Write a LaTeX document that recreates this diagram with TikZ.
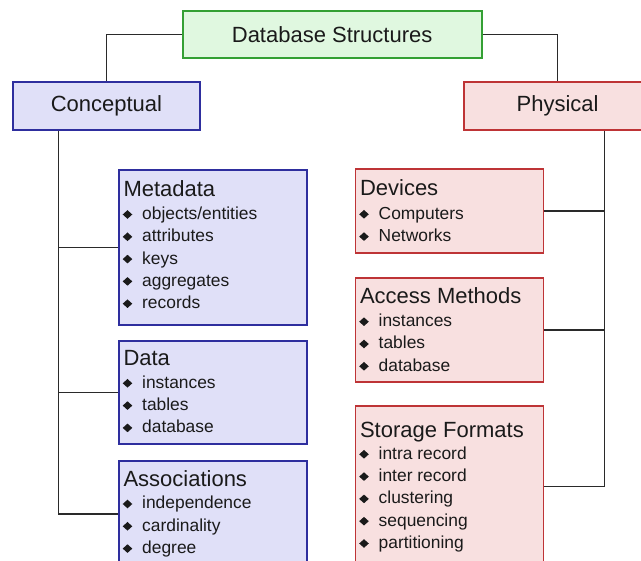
\documentclass[tikz,border=0pt]{standalone}
\usepackage{fontspec}
\setmainfont{Liberation Sans}
\definecolor{gfill}{HTML}{E0F8E0}
\definecolor{gdraw}{HTML}{34A034}
\definecolor{bfill}{HTML}{E0E0F8}
\definecolor{bdraw}{HTML}{2E2E9E}
\definecolor{rfill}{HTML}{F8E0E0}
\definecolor{rdraw}{HTML}{BE3436}
\definecolor{txt}{HTML}{1A1A1A}
\definecolor{linec}{HTML}{2A2A2A}
\tikzset{
  boxbase/.style={rectangle, line width=1.9pt, inner sep=0pt, anchor=north west},
  greenbox/.style={boxbase, draw=gdraw, fill=gfill},
  bluebox/.style={boxbase, draw=bdraw, fill=bfill},
  redbox/.style={boxbase, draw=rdraw, fill=rfill},
  titletext/.style={text=txt, inner sep=0pt, font=\fontsize{22}{26}\selectfont},
  itemtext/.style={text=txt, inner sep=0pt, anchor=base west, font=\fontsize{17.4}{20}\selectfont},
  conn/.style={draw=linec, line width=1.6pt},
}
% #1 prefix, #2 box left x, #3 first item baseline, #4 items
\newcommand\mylist[4]{%
  \foreach \t [count=\i] in {#4} {
    \node[itemtext] (#1-\i) at ({#2+24},{#3+22.3*(\i-1)}) {\t};
    \fill[txt] ({#2+9.5-4.8},{#3+22.3*(\i-1)-5}) -- ++(4.8,-4.3) -- ++(4.8,4.3) -- ++(-4.8,4.3) -- cycle;
  }%
}
\begin{document}
\begin{tikzpicture}[x=1pt,y=-1pt]
\useasboundingbox (0,0) rectangle (641,561);
\clip (0,0) rectangle (641,561);
\fill[white] (0,0) rectangle (641,561);

% top level
\node[greenbox, minimum width=299pt, minimum height=47.3pt] (top) at (181.7,10) {};
\node[titletext] (toplbl) at (top.center) {Database Structures};

\node[bluebox, minimum width=187.6pt, minimum height=47.7pt] (concept) at (11.7,81) {};
\node[titletext] (conceptlbl) at (concept.center) {Conceptual};

\node[redbox, minimum width=188pt, minimum height=47.7pt] (phys) at (462.7,81) {};
\node[titletext] (physlbl) at (phys.center) {Physical};

% conceptual children
\node[bluebox, minimum width=188pt, minimum height=155pt] (meta) at (118,169) {};
\node[titletext, anchor=base west] (metat) at (123.3,196.7) {Metadata};
\mylist{meta}{118}{219.5}{{objects/entities},attributes,keys,aggregates,records}

\node[bluebox, minimum width=188pt, minimum height=103.3pt] (data) at (118,340) {};
\node[titletext, anchor=base west] (datat) at (123.3,365.7) {Data};
\mylist{data}{118}{388.3}{instances,tables,database}

\node[bluebox, minimum width=188pt, minimum height=106pt] (assoc) at (118,460) {};
\node[titletext, anchor=base west] (assoct) at (123.3,486.7) {Associations};
\mylist{assoc}{118}{509}{independence,cardinality,degree}

% physical children
\node[redbox, minimum width=188pt, minimum height=84pt] (dev) at (354.5,168.3) {};
\node[titletext, anchor=base west] (devt) at (359.8,196) {Devices};
\mylist{dev}{354.5}{219.3}{Computers,Networks}

\node[redbox, minimum width=188pt, minimum height=103.4pt] (acc) at (354.5,277.3) {};
\node[titletext, anchor=base west] (acct) at (359.8,304) {Access Methods};
\mylist{acc}{354.5}{326.7}{instances,tables,database}

\node[redbox, minimum width=188pt, minimum height=161.4pt] (store) at (354.5,405) {};
\node[titletext, anchor=base west] (storet) at (359.8,437.7) {Storage Formats};
\mylist{store}{354.5}{459.3}{intra record,inter record,clustering,sequencing,partitioning}

% connectors
\coordinate (cL) at (58.3,0);
\coordinate (cR) at (604.3,0);
\draw[conn] (top.west) -| (concept.north);
\draw[conn] (top.east) -| (phys.north);
\draw[conn] (concept.south -| cL) |- (assoc.west);
\draw[conn] (meta.west -| cL) -- (meta.west);
\draw[conn] (data.west -| cL) -- (data.west);
\draw[conn] (phys.south -| cR) |- (store.east);
\draw[conn] (dev.east) -- (dev.east -| cR);
\draw[conn] (acc.east) -- (acc.east -| cR);
\end{tikzpicture}
\end{document}
